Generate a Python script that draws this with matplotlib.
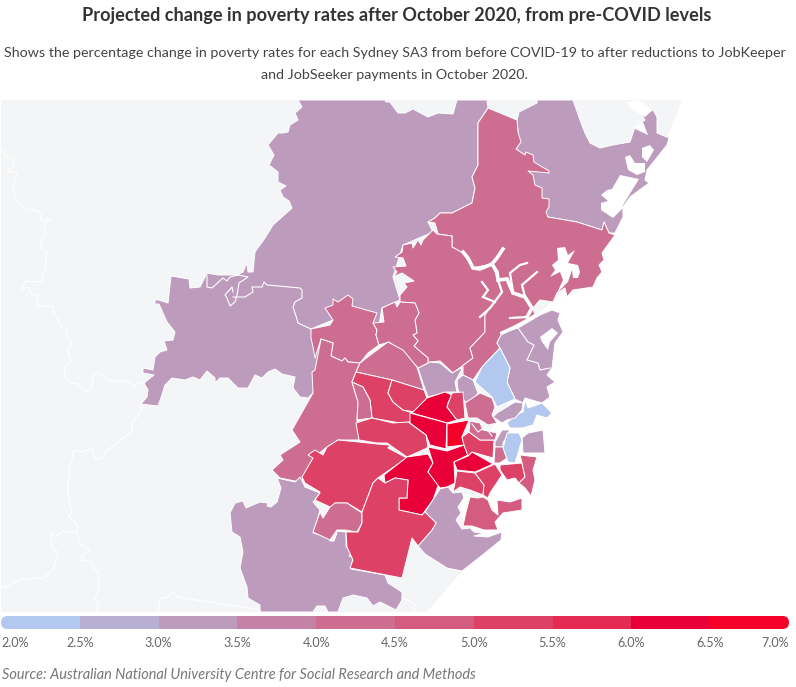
import matplotlib
matplotlib.use('Agg')
import matplotlib.pyplot as plt
from matplotlib.colors import ListedColormap, BoundaryNorm
from matplotlib.patches import FancyBboxPatch
from matplotlib.transforms import IdentityTransform

# legend breaks and bin colours
breaks = [2.0, 2.5, 3.0, 3.5, 4.0, 4.5, 5.0, 5.5, 6.0, 6.5, 7.0]
bin_colors = ['#b3c8ee', '#b8b0d3', '#bd9bbd', '#c681a6', '#cd6d8f',
              '#d35c80', '#dd4165', '#e52a51', '#ea0039', '#f50029']

# SA3 outlines in pixel positions
land = [(1, 100), (796, 100), (796, 612), (1, 612)]
sea = [(682, 100), (669, 133), (650, 160), (640, 185), (620, 210), (612, 235), (590, 270),
       (560, 295), (540, 312), (525, 335), (505, 412), (490, 430), (485, 470), (480, 500),
       (458, 490), (465, 530), (475, 540), (463, 570), (427, 612), (796, 612), (796, 100)]

hawkesbury = [(298, 100), (385, 100), (386, 102), (390, 102), (398, 113), (405, 113), (413, 109),
              (428, 117), (438, 113), (453, 114), (457, 100), (487, 100), (488, 108), (478, 123),
              (478, 165), (472, 177), (475, 188), (472, 203), (452, 213), (440, 213), (435, 218),
              (428, 222), (433, 232), (403, 245), (393, 277), (400, 300), (382, 308), (378, 330),
              (352, 306), (333, 320), (311, 329), (321, 339), (313, 393), (308, 398), (300, 397),
              (293, 388), (295, 377), (282, 374), (275, 369), (268, 372), (262, 378), (255, 375),
              (248, 388), (238, 388), (228, 378), (220, 378), (215, 383), (215, 378), (207, 371),
              (200, 380), (193, 377), (185, 380), (172, 378), (165, 385), (162, 395), (158, 406),
              (141, 404), (147, 397), (148, 390), (144, 383), (154, 375), (143, 373), (143, 368),
              (153, 370), (155, 357), (160, 352), (167, 350), (164, 341), (173, 340), (175, 332),
              (167, 322), (159, 304), (155, 304), (155, 300), (159, 300), (168, 303), (171, 276),
              (189, 279), (190, 288), (200, 287), (207, 273), (218, 275), (238, 275), (243, 272),
              (247, 263), (248, 272), (253, 272), (255, 252), (265, 238), (273, 225), (292, 208),
              (289, 201), (283, 197), (280, 190), (286, 186), (278, 182), (278, 172), (269, 165),
              (274, 155), (268, 145), (278, 133), (283, 133), (288, 132), (290, 125), (298, 120),
              (295, 113), (302, 107)]
central_coast = [(488, 108), (518, 132), (517, 120), (519, 112), (537, 103), (537, 100), (573, 100),
                 (580, 120), (585, 133), (590, 143), (600, 148), (613, 145), (630, 142), (635, 127),
                 (645, 120), (640, 112), (652, 108), (657, 117), (657, 133), (669, 138), (667, 145),
                 (647, 170), (645, 180), (649, 183), (630, 197), (623, 207), (623, 217), (615, 233),
                 (609, 233), (604, 222), (602, 230), (577, 222), (548, 217), (520, 180)]
gosford = [(488, 108), (517, 120), (518, 132), (521, 142), (516, 149), (525, 155), (526, 152),
           (533, 155), (534, 162), (549, 171), (549, 173), (528, 171), (533, 175), (535, 185),
           (542, 188), (542, 198), (549, 199), (549, 207), (546, 212), (548, 217), (577, 222),
           (602, 230), (604, 222), (609, 233), (615, 235), (602, 253), (604, 260), (599, 265),
           (602, 272), (597, 278), (593, 287), (573, 290), (567, 297), (565, 288), (557, 293),
           (553, 302), (540, 300), (533, 308), (525, 297), (513, 292), (507, 279), (498, 280),
           (492, 264), (473, 268), (463, 253), (452, 247), (452, 236), (438, 234), (435, 223),
           (428, 222), (435, 218), (440, 213), (452, 213), (472, 203), (475, 188), (472, 177),
           (478, 165), (478, 123)]
hornsby = [(433, 230), (437, 234), (452, 236), (452, 247), (463, 253), (473, 268), (492, 264),
           (498, 280), (502, 292), (490, 308), (485, 315), (485, 332), (470, 348), (473, 358),
           (453, 373), (440, 361), (430, 362), (428, 363), (428, 358), (414, 346), (418, 341),
           (413, 335), (417, 333), (415, 320), (419, 313), (415, 303), (400, 302), (400, 295),
           (407, 287), (404, 283), (414, 281), (402, 273), (393, 277), (397, 272), (393, 267),
           (406, 266), (403, 258), (395, 257), (402, 252), (403, 245), (412, 243), (413, 248),
           (418, 240), (421, 245), (423, 240)]
kuringgai = [(498, 280), (507, 279), (513, 292), (525, 297), (533, 308), (535, 316), (517, 325),
             (502, 333), (497, 343), (500, 348), (482, 367), (473, 380), (463, 375), (463, 367),
             (453, 373), (473, 358), (470, 348), (485, 332), (485, 315), (490, 308), (502, 292)]
beaches = [(502, 333), (518, 328), (540, 315), (552, 310), (560, 313), (558, 320), (563, 332),
           (555, 343), (552, 368), (547, 375), (555, 382), (547, 387), (550, 397), (542, 403),
           (525, 398), (523, 403), (515, 399), (507, 382), (510, 368), (500, 348), (497, 343)]
pennant = [(500, 348), (510, 368), (507, 382), (515, 399), (497, 407), (492, 397), (475, 382), (482, 367)]
ryde = [(457, 380), (463, 375), (473, 380), (478, 393), (473, 400), (465, 402), (458, 390)]
baulkham = [(418, 368), (430, 362), (440, 363), (452, 373), (463, 367), (455, 382), (457, 392),
            (447, 392), (428, 397), (423, 383)]
rouse = [(311, 329), (330, 325), (333, 320), (325, 308), (333, 305), (333, 299), (338, 302),
         (348, 295), (353, 299), (352, 306), (377, 313), (373, 323), (377, 330), (376, 335),
         (379, 345), (368, 353), (360, 363), (348, 362), (345, 358), (342, 361), (331, 356),
         (333, 343), (321, 339), (315, 358), (313, 347), (311, 338)]
dural = [(382, 308), (395, 302), (397, 307), (400, 302), (415, 303), (419, 313), (415, 320),
         (417, 333), (413, 335), (418, 341), (414, 346), (428, 358), (428, 363), (418, 368),
         (403, 352), (389, 342), (379, 345), (376, 335), (377, 330), (373, 323), (384, 322)]
penrith = [(321, 339), (333, 343), (331, 356), (342, 361), (345, 358), (348, 362), (360, 363),
           (356, 372), (352, 382), (358, 402), (357, 420), (359, 440), (338, 440), (327, 447),
           (313, 458), (305, 477), (300, 482), (280, 478), (272, 470), (283, 460), (280, 455),
           (300, 442), (292, 430), (313, 393), (312, 372), (315, 370)]
blacktown_n = [(356, 372), (360, 363), (373, 353), (388, 342), (403, 350), (417, 367), (424, 390), (392, 380)]
blacktown_w = [(356, 372), (392, 380), (388, 393), (393, 402), (403, 410), (413, 413), (410, 422),
               (400, 423), (372, 418), (370, 400), (363, 387), (352, 382)]
blacktown_e = [(392, 380), (424, 390), (427, 398), (415, 412), (403, 410), (393, 402), (388, 393)]
strip = [(352, 382), (363, 387), (370, 400), (372, 418), (357, 420), (358, 402)]
parramatta = [(427, 398), (445, 392), (452, 395), (448, 403), (447, 407), (457, 420), (447, 423), (412, 413)]
carlingford = [(452, 393), (463, 392), (465, 418), (457, 420), (447, 407)]
merrylands = [(410, 413), (447, 423), (446, 449), (430, 445), (426, 435), (410, 423)]
auburn = [(447, 424), (469, 420), (462, 437), (464, 445), (447, 447)]
fairfield = [(356, 423), (372, 418), (393, 423), (408, 422), (426, 435), (428, 447), (425, 449),
             (407, 457), (387, 443), (377, 443), (359, 440)]
camden_w = [(338, 440), (359, 442), (377, 444), (390, 445), (388, 448), (407, 458), (385, 473),
            (378, 478), (373, 483), (362, 512), (347, 503), (335, 503), (323, 518), (330, 507),
            (315, 500), (320, 492), (305, 483), (302, 477), (313, 458), (308, 455), (315, 450),
            (323, 455), (327, 447)]
liverpool = [(407, 457), (428, 454), (433, 463), (428, 472), (439, 483), (433, 500), (422, 515),
             (399, 510), (399, 498), (407, 498), (408, 480), (395, 478), (385, 483), (384, 475)]
bankstown = [(428, 447), (447, 451), (464, 445), (468, 455), (454, 462), (455, 483), (447, 487),
             (440, 488), (428, 472), (433, 463)]
canterbury = [(472, 452), (493, 464), (475, 472), (457, 470), (454, 462), (468, 456)]
strathfield = [(469, 432), (480, 440), (494, 440), (493, 458), (472, 452), (468, 456), (464, 445), (462, 437)]
hurstville = [(457, 471), (475, 473), (484, 485), (483, 495), (470, 490), (460, 487), (453, 492), (455, 483)]
kogarah = [(475, 473), (495, 464), (502, 475), (490, 493), (488, 498), (483, 495), (484, 485)]
botany = [(500, 465), (522, 463), (525, 477), (519, 483), (515, 478), (507, 480), (500, 470)]
randwick = [(520, 455), (537, 457), (533, 470), (535, 480), (531, 496), (525, 488), (519, 483), (525, 477), (522, 463)]
waverley = [(523, 453), (522, 438), (528, 433), (543, 430), (545, 453)]
leichhardt = [(495, 442), (502, 430), (510, 430), (503, 443), (503, 447), (495, 447)]
marrickville = [(495, 447), (503, 447), (507, 458), (500, 463), (494, 463)]
sydney_city = [(504, 445), (507, 433), (519, 433), (522, 440), (515, 463), (508, 462), (503, 448)]
north_sydney = [(525, 400), (528, 408), (542, 403), (552, 413), (547, 418), (537, 415), (533, 425),
                (522, 428), (510, 428), (507, 423), (515, 415), (523, 412)]
lane_cove = [(497, 413), (515, 402), (523, 403), (522, 410), (515, 418), (507, 420), (502, 423), (493, 417)]
concord = [(465, 403), (480, 393), (492, 398), (495, 407), (492, 415), (497, 423), (488, 425), (477, 418), (468, 418)]
canada_bay = [(470, 421), (480, 423), (483, 430), (497, 433), (495, 440), (480, 440), (469, 432)]
sutherland = [(440, 489), (448, 487), (453, 493), (462, 492), (464, 498), (458, 507), (461, 513),
              (456, 520), (462, 529), (470, 528), (474, 532), (484, 533), (474, 536), (488, 537),
              (502, 532), (501, 540), (480, 557), (462, 571), (447, 568), (425, 554), (418, 546),
              (432, 530), (436, 523), (425, 512)]
cronulla = [(470, 497), (478, 498), (483, 497), (488, 500), (492, 510), (498, 515), (497, 500),
            (510, 502), (522, 498), (522, 510), (503, 513), (495, 522), (498, 530), (484, 530),
            (472, 526), (463, 526), (466, 512)]
wollondilly = [(277, 478), (295, 482), (300, 477), (305, 487), (320, 493), (313, 502), (320, 510),
               (316, 525), (313, 533), (329, 537), (330, 541), (334, 541), (337, 533), (334, 531),
               (346, 532), (346, 547), (353, 550), (349, 556), (353, 557), (351, 569), (385, 575),
               (388, 583), (402, 592), (402, 600), (396, 610), (380, 602), (373, 606), (367, 598),
               (353, 595), (343, 598), (338, 612), (328, 612), (325, 606), (317, 606), (313, 612),
               (260, 612), (260, 605), (248, 598), (247, 587), (240, 568), (243, 552), (240, 537),
               (232, 532), (230, 513), (235, 503), (243, 501), (246, 508), (260, 502), (268, 503),
               (267, 506), (271, 507), (277, 502), (281, 488)]
camden_s = [(335, 503), (347, 503), (362, 513), (362, 523), (357, 532), (345, 530), (337, 530),
            (330, 540), (313, 532), (320, 512), (323, 518), (330, 507)]
campbelltown = [(378, 478), (385, 483), (395, 478), (408, 480), (407, 498), (399, 498), (399, 510),
                (422, 515), (425, 512), (436, 523), (432, 530), (418, 546), (412, 538), (402, 578),
                (350, 568), (353, 560), (347, 547), (346, 532), (358, 532), (362, 523), (362, 512), (373, 483)]

regions = [hawkesbury, central_coast, gosford, hornsby, kuringgai, beaches, pennant, ryde, baulkham,
           rouse, dural, penrith, blacktown_n, blacktown_w, blacktown_e, strip, parramatta, carlingford,
           merrylands, auburn, fairfield, camden_w, liverpool, bankstown, canterbury, strathfield,
           hurstville, kogarah, botany, randwick, waverley, leichhardt, marrickville, sydney_city,
           north_sydney, lane_cove, concord, canada_bay, sutherland, cronulla, wollondilly, camden_s,
           campbelltown]
rates = [3.2, 3.2, 4.2, 4.2, 4.2, 3.2, 2.2, 3.2, 3.2,
         4.2, 4.2, 4.2, 4.2, 5.2, 5.2, 4.2, 6.2, 5.2,
         6.2, 6.7, 5.2, 5.2, 6.2, 6.2, 6.2, 5.2,
         5.2, 5.2, 5.2, 4.7, 3.2, 3.2, 4.2, 2.2,
         2.2, 3.2, 4.2, 4.2, 3.2, 4.7, 3.2, 4.2,
         5.2]

# thin boundaries over land and inside the big regions
borders = [
    [(2, 150), (8, 158), (13, 158), (13, 167), (6, 171), (17, 172), (13, 190), (17, 202), (23, 207),
     (30, 210), (35, 210), (40, 213), (41, 220), (50, 220), (45, 223), (44, 237), (41, 240), (42, 250),
     (47, 252), (45, 268), (47, 268), (43, 275), (42, 282), (25, 281), (22, 289), (28, 287), (32, 295),
     (38, 295), (36, 306), (53, 306), (53, 313), (58, 318), (62, 328), (67, 328), (67, 335), (72, 343),
     (67, 350), (71, 360), (64, 368), (65, 377), (72, 383), (78, 384), (86, 392), (92, 387), (93, 375),
     (98, 372), (110, 381), (128, 381), (133, 387), (137, 383), (144, 383)],
    [(140, 405), (142, 410), (132, 423), (132, 431), (115, 445), (107, 450), (102, 458), (95, 460),
     (92, 448), (83, 452), (73, 451), (72, 460), (69, 467), (69, 475), (68, 487), (69, 502), (72, 513),
     (68, 516), (78, 525), (77, 533), (63, 531), (55, 537), (50, 532), (52, 548), (58, 552), (53, 570),
     (42, 579), (35, 577), (30, 580), (23, 578), (5, 587), (1, 587)],
    [(77, 533), (79, 543), (90, 550), (82, 555), (82, 560), (92, 562), (93, 568), (99, 574), (99, 587),
     (95, 600), (99, 602), (97, 607), (97, 612)],
    [(158, 612), (160, 599), (168, 597), (173, 591), (177, 597), (260, 610)],
    [(402, 598), (413, 603), (417, 608), (413, 612)],
    [(233, 297), (245, 297), (253, 292), (252, 287), (262, 287), (264, 282), (267, 285), (300, 288),
     (302, 290), (302, 298), (295, 302), (293, 307), (296, 316), (298, 323), (311, 329)],
    [(207, 275), (207, 287), (212, 288), (223, 278), (227, 281), (230, 277), (238, 275), (248, 277),
     (239, 283), (237, 295), (235, 302), (230, 306), (227, 298), (225, 295), (232, 287), (233, 292)],
    [(518, 328), (528, 342), (534, 345), (527, 360), (538, 363), (540, 370), (550, 368)],
    [(472, 424), (478, 432), (485, 427), (492, 436)],
]

# lakes and bays cut out of the coast
lake_a = [(601, 195), (607, 190), (612, 189), (620, 175), (639, 179), (623, 205), (623, 208),
          (613, 218), (601, 210), (601, 203), (608, 201)]
lake_b = [(625, 157), (630, 155), (635, 163), (645, 163), (645, 172), (637, 175), (628, 170)]
lake_c = [(642, 148), (650, 145), (654, 150), (647, 162), (642, 157)]
lake_d = [(633, 128), (643, 122), (648, 135)]
lake_e = [(627, 102), (638, 100), (653, 110), (645, 117), (630, 108)]
brisbane_water = [(557, 248), (565, 247), (568, 255), (575, 250), (568, 263), (578, 265), (580, 272),
                  (578, 278), (573, 278), (572, 270), (568, 282), (557, 293), (563, 280), (560, 272),
                  (550, 277), (555, 270), (552, 265), (558, 260)]
pittwater = [(540, 337), (552, 328), (558, 333), (550, 342), (548, 350), (542, 342)]
lakes = [lake_a, lake_b, lake_c, lake_d, lake_e, brisbane_water, pittwater]

# hawkesbury river and its arms
river_main = [
    [(463, 252), (468, 258), (473, 268), (480, 269), (492, 264), (497, 258), (503, 249)],
    [(492, 264), (497, 272), (498, 280), (507, 279), (513, 293), (525, 297), (532, 308), (527, 317)],
    [(502, 333), (517, 326), (535, 316)],
]
river_arms = [
    [(498, 280), (502, 292), (490, 308), (480, 317)],
    [(482, 282), (488, 290), (483, 297), (495, 302)],
    [(513, 292), (510, 273), (520, 265), (527, 263)],
    [(525, 297), (522, 285), (537, 272)],
    [(527, 317), (510, 318)],
]

source = 'Source: Australian National University Centre for Social Research and Methods'
title = 'Projected change in poverty rates after October 2020, from pre-COVID levels'
subtitle = ('Shows the percentage change in poverty rates for each Sydney SA3 from before COVID-19 to after reductions to JobKeeper\n'
            'and JobSeeker payments in October 2020.')

plt.rcParams['font.family'] = ['Lato', 'DejaVu Sans']

cmap = ListedColormap(bin_colors)
norm = BoundaryNorm(breaks, cmap.N)

fig = plt.figure(figsize=(7.96, 6.87), dpi=100)
ax = fig.add_axes([0, 0, 1, 1])
ax.set_xlim(0, 796)
ax.set_ylim(687, 0)
ax.axis('off')

ax.fill(*zip(*land), color='#f3f5f7', lw=0)
for line in borders[:5]:
    ax.plot(*zip(*line), color='white', lw=0.8, solid_joinstyle='round')
ax.fill(*zip(*sea), color='white', lw=0)

for outline, rate in zip(regions, rates):
    ax.fill(*zip(*outline), facecolor=cmap(norm(rate)), edgecolor='white', lw=0.7, joinstyle='round')

for line in borders[5:]:
    ax.plot(*zip(*line), color='white', lw=0.8, solid_joinstyle='round')
for lake in lakes:
    ax.fill(*zip(*lake), color='white', lw=0)
for line in river_main:
    ax.plot(*zip(*line), color='white', lw=2.6, solid_joinstyle='miter')
for line in river_arms:
    ax.plot(*zip(*line), color='white', lw=1.6, solid_joinstyle='miter')

ax.text(396.5, 16, title, ha='center', va='center', fontsize=13.1, fontweight='bold', color='#333333')
ax.text(394.5, 64, subtitle, ha='center', va='center', fontsize=10.3, color='#444444', linespacing=1.95)
ax.text(2, 675, source, ha='left', va='center', fontsize=10.45, style='italic', color='#777777')

# colour scale under the map
cax = fig.add_axes([1 / 796, 1 - 629 / 687, 788 / 796, 13 / 687])
cax.set_xlim(breaks[0], breaks[-1])
cax.set_ylim(0, 1)
cax.axis('off')
bars = cax.bar(breaks[:-1], 1, width=0.5, align='edge', color=bin_colors, lw=0)
pill = FancyBboxPatch((1, 58), 788, 13, boxstyle='round,pad=0,rounding_size=6.5',
                      transform=IdentityTransform())
for bar in bars:
    bar.set_clip_path(pill)

for i, b in enumerate(breaks):
    ha = 'left' if i == 0 else 'right' if i == len(breaks) - 1 else 'center'
    cax.annotate(f'{b:.1f}%', (b, 0), xytext=(0, -14), textcoords='offset pixels', ha=ha, va='center',
                 annotation_clip=False, fontsize=9.1, color='#666666')

fig.savefig('out.png', dpi=100)
